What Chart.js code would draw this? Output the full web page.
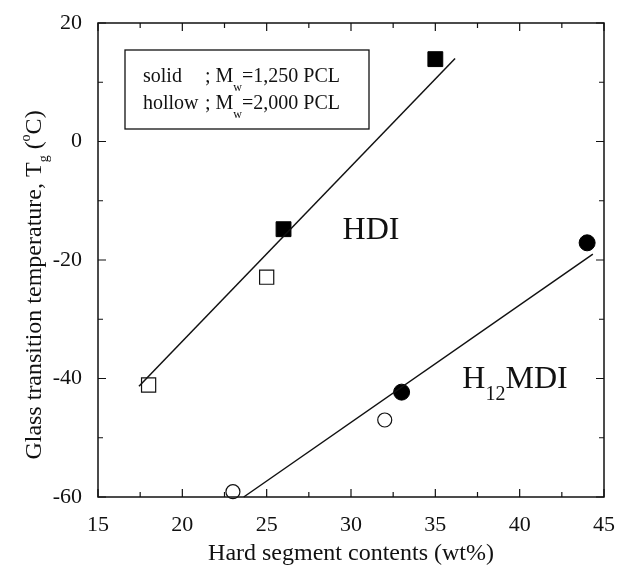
<!DOCTYPE html>
<html>
<head>
<meta charset="utf-8">
<script src="https://cdn.jsdelivr.net/npm/chart.js@4.4.1/dist/chart.umd.min.js"></script>
<style>
  html, body { margin: 0; padding: 0; background: #fff; }
</style>
</head>
<body>
<canvas id="chart" width="622" height="570"></canvas>
<script>
const FONT = '"Liberation Serif", "Times New Roman", serif';
const INK = '#111';

// measured points (x = hard segment wt%, y = Tg in C)
const hdiSolidX = [26, 35];
const hdiSolidY = [-14.8, 13.9];
const hdiHollowX = [18, 25];
const hdiHollowY = [-41.1, -22.9];
const mdiSolidX = [33, 44];
const mdiSolidY = [-42.3, -17.1];
const mdiHollowX = [23, 32];
const mdiHollowY = [-59.1, -47];

// fitted lines (end points)
const hdiFitX = [17.43, 36.17];
const hdiFitY = [-41.3, 14.0];
const mdiFitX = [23.64, 44.34];
const mdiFitY = [-60, -19.0];

// ticks
const xMinorTicks = [17.5, 22.5, 27.5, 32.5, 37.5, 42.5];
const yMinorTicks = [10, -10, -30, -50];

const pts = (xs, ys) => xs.map((x, i) => ({ x: x, y: ys[i] }));

function runs(ctx, parts, x, y) {
    let cx = x;
    parts.forEach((p) => {
        ctx.font = `${p.size}px ${FONT}`;
        ctx.fillText(p.t, cx, y + (p.dy || 0));
        cx += ctx.measureText(p.t).width;
    });
    return cx;
}

function runsWidth(ctx, parts) {
    let w = 0;
    parts.forEach((p) => {
        ctx.font = `${p.size}px ${FONT}`;
        w += ctx.measureText(p.t).width;
    });
    return w;
}

const framePlugin = {
    id: 'frame',
    afterDatasetsDraw(chart) {
        const { ctx, chartArea: a, scales: { x, y } } = chart;
        ctx.save();
        ctx.strokeStyle = INK;
        ctx.fillStyle = INK;
        ctx.lineWidth = 1.5;
        ctx.strokeRect(a.left, a.top, a.right - a.left, a.bottom - a.top);

        // inward ticks on all four sides
        ctx.lineWidth = 1.2;
        ctx.beginPath();
        const xTick = (v, len) => {
            const px = x.getPixelForValue(v);
            ctx.moveTo(px, a.bottom); ctx.lineTo(px, a.bottom - len);
            ctx.moveTo(px, a.top); ctx.lineTo(px, a.top + len);
        };
        const yTick = (v, len) => {
            const py = y.getPixelForValue(v);
            ctx.moveTo(a.left, py); ctx.lineTo(a.left + len, py);
            ctx.moveTo(a.right, py); ctx.lineTo(a.right - len, py);
        };
        x.ticks.forEach((t) => xTick(t.value, 8));
        y.ticks.forEach((t) => yTick(t.value, 8));
        xMinorTicks.forEach((v) => xTick(v, 5));
        yMinorTicks.forEach((v) => yTick(v, 5));
        ctx.stroke();

        // legend box
        const bx = a.left + 27, by = a.top + 27, bw = 244, bh = 79;
        ctx.lineWidth = 1.3;
        ctx.strokeRect(bx, by, bw, bh);
        ctx.textBaseline = 'alphabetic';
        ctx.textAlign = 'left';
        runs(ctx, [{ t: 'solid', size: 20 }], bx + 18, by + 32);
        runs(ctx, [{ t: 'hollow', size: 20 }], bx + 18, by + 59);
        runs(ctx, [
            { t: '; M', size: 20 }, { t: 'w', size: 12, dy: 9 },
            { t: '=1,250 PCL', size: 20 }
        ], bx + 80, by + 32);
        runs(ctx, [
            { t: '; M', size: 20 }, { t: 'w', size: 12, dy: 9 },
            { t: '=2,000 PCL', size: 20 }
        ], bx + 80, by + 59);

        // series labels
        runs(ctx, [{ t: 'HDI', size: 32 }], x.getPixelForValue(29.5), y.getPixelForValue(-16.4));
        runs(ctx, [
            { t: 'H', size: 32 }, { t: '12', size: 20, dy: 12 }, { t: 'MDI', size: 32 }
        ], x.getPixelForValue(36.6), y.getPixelForValue(-41.6));

        // axis titles
        const xt = [{ t: 'Hard segment contents (wt%)', size: 24 }];
        const xw = runsWidth(ctx, xt);
        runs(ctx, xt, (a.left + a.right) / 2 - xw / 2, 560);

        const yt = [
            { t: 'Glass transition temperature, T', size: 24 },
            { t: 'g', size: 14, dy: 7 },
            { t: ' (', size: 24 },
            { t: 'o', size: 14, dy: -11 },
            { t: 'C)', size: 24 }
        ];
        const yw = runsWidth(ctx, yt);
        ctx.translate(41, 285);
        ctx.rotate(-Math.PI / 2);
        runs(ctx, yt, -yw / 2, 0);
        ctx.restore();
    }
};

const ctx = document.getElementById('chart').getContext('2d');
new Chart(ctx, {
    type: 'scatter',
    data: {
        datasets: [
            {
                label: 'HDI fit',
                data: pts(hdiFitX, hdiFitY),
                showLine: true,
                borderColor: INK,
                borderWidth: 1.5,
                pointRadius: 0,
            },
            {
                label: 'H12MDI fit',
                data: pts(mdiFitX, mdiFitY),
                showLine: true,
                borderColor: INK,
                borderWidth: 1.5,
                pointRadius: 0,
            },
            {
                label: 'HDI solid',
                data: pts(hdiSolidX, hdiSolidY),
                pointStyle: 'rect',
                pointRadius: 10.5,
                backgroundColor: '#000',
                borderColor: '#000',
                borderWidth: 1,
            },
            {
                label: 'HDI hollow',
                data: pts(hdiHollowX, hdiHollowY),
                pointStyle: 'rect',
                pointRadius: 10,
                backgroundColor: '#fff',
                borderColor: INK,
                borderWidth: 1.2,
            },
            {
                label: 'H12MDI solid',
                data: pts(mdiSolidX, mdiSolidY),
                pointStyle: 'circle',
                pointRadius: 8,
                backgroundColor: '#000',
                borderColor: '#000',
                borderWidth: 1,
            },
            {
                label: 'H12MDI hollow',
                data: pts(mdiHollowX, mdiHollowY),
                pointStyle: 'circle',
                pointRadius: 7,
                backgroundColor: '#fff',
                borderColor: INK,
                borderWidth: 1.2,
            },
        ],
    },
    options: {
        responsive: false,
        animation: false,
        clip: false,
        layout: { padding: { top: 23, right: 14, left: 0, bottom: 0 } },
        plugins: {
            legend: { display: false },
            tooltip: { enabled: false },
        },
        scales: {
            x: {
                type: 'linear',
                min: 15,
                max: 45,
                grid: { display: false },
                border: { display: false },
                ticks: {
                    stepSize: 5,
                    padding: 7,
                    color: INK,
                    font: { family: FONT, size: 22 },
                },
                afterFit: (s) => { s.height = 73; },
            },
            y: {
                type: 'linear',
                min: -60,
                max: 20,
                grid: { display: false },
                border: { display: false },
                ticks: {
                    stepSize: 20,
                    padding: 8,
                    color: INK,
                    font: { family: FONT, size: 22 },
                },
                afterFit: (s) => { s.width = 98; },
            },
        },
    },
    plugins: [framePlugin],
});
</script>
</body>
</html>
